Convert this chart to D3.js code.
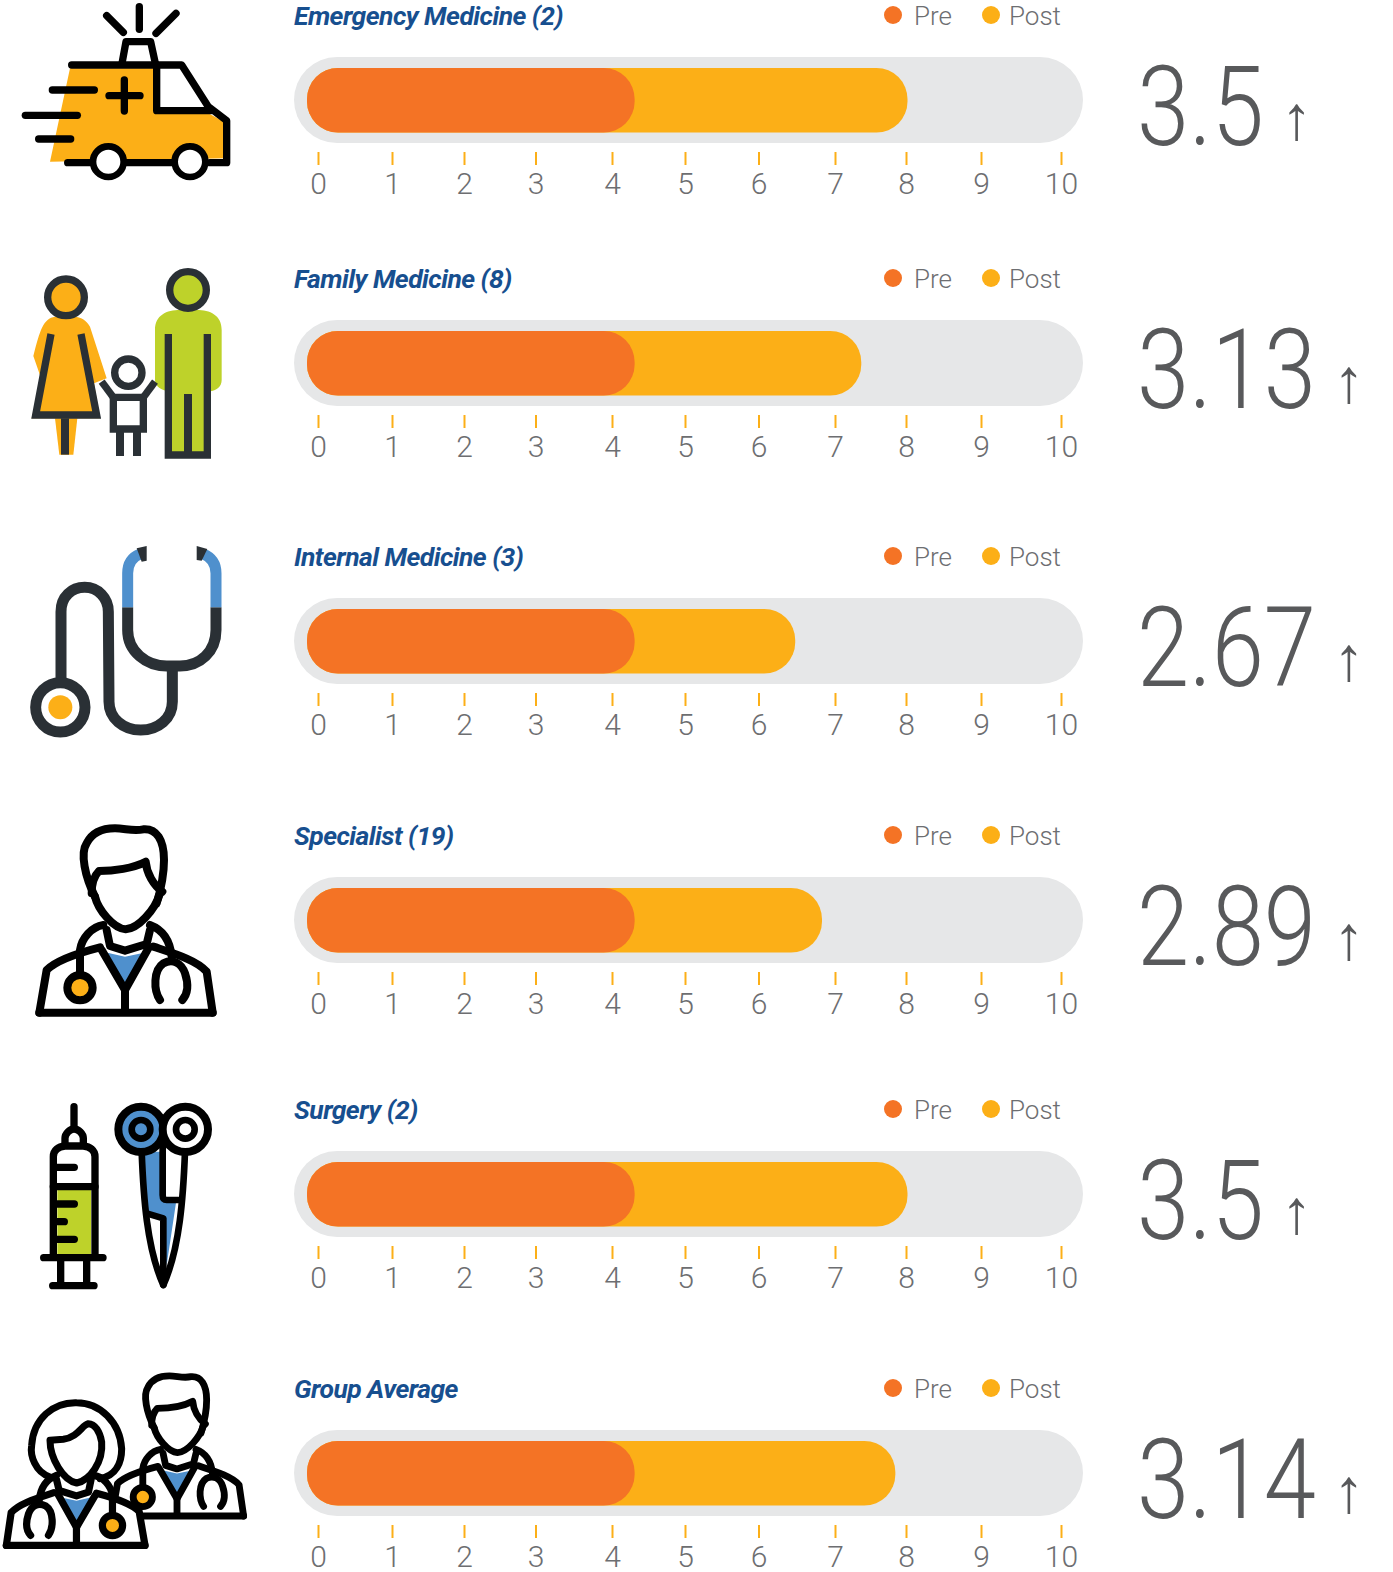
<!DOCTYPE html>
<html>
<head>
<meta charset="utf-8">
<script src="https://cdnjs.cloudflare.com/ajax/libs/d3/7.8.5/d3.min.js"></script>
<style>
html, body { margin: 0; padding: 0; background: #fff; }
svg { display: block; }
text { font-family: Roboto, sans-serif; }
</style>
</head>
<body>
<div id="chart"></div>
<script>
var rowNames = ["Emergency Medicine (2)", "Family Medicine (8)", "Internal Medicine (3)", "Specialist (19)", "Surgery (2)", "Group Average"];
var preValues = [4.31, 4.31, 4.31, 4.31, 4.31, 4.31];
var postValues = [8.02, 7.37, 6.48, 6.83, 8.02, 7.85];
var changes = ["3.5", "3.13", "2.67", "2.89", "3.5", "3.14"];
var tickLabels = [0, 1, 2, 3, 4, 5, 6, 7, 8, 9, 10];
var legendNames = ["Pre", "Post"];

// layout only
var width = 1393, height = 1572;
var rowTop = [57, 320, 598, 877, 1151, 1430];
var tickPx = [318, 392, 464, 535.5, 612, 685, 758.5, 835, 906, 981, 1061];
var preColor = "#f47325", postColor = "#fcaf17", dark = "#2a3035", blue = "#4f90cd", green = "#bed22a";

var svg = d3.select("#chart").append("svg")
    .attr("width", width)
    .attr("height", height)
    .attr("viewBox", "0 0 " + width + " " + height);

// the ticks in the picture are not evenly spaced, so the scale is piecewise
var xScale = d3.scaleLinear().domain(tickLabels).range(tickPx);

var barStart = xScale(0) - 11;
var xAxis = d3.axisBottom(xScale).tickValues(tickLabels).tickSize(13).tickPadding(8).tickFormat(d3.format("d"));

rowNames.forEach(function(name, i) {
    var row = svg.append("g").attr("transform", "translate(0," + rowTop[i] + ")");

    row.append("text")
        .attr("x", 294).attr("y", -32)
        .attr("font-size", 26.5).attr("font-weight", 700).attr("font-style", "italic")
        .attr("letter-spacing", -0.55)
        .attr("fill", "#174f8f")
        .text(name);

    // legend
    legendNames.forEach(function(l, j) {
        row.append("circle")
            .attr("cx", j == 0 ? 893 : 991).attr("cy", -42).attr("r", 9)
            .attr("fill", j == 0 ? preColor : postColor);
        row.append("text")
            .attr("x", j == 0 ? 914 : 1009).attr("y", -32)
            .attr("font-size", 26).attr("font-weight", 300)
            .attr("fill", "#6d6e71")
            .text(l);
    });

    // track + bars
    row.append("rect")
        .attr("x", 294).attr("y", 0)
        .attr("width", 789).attr("height", 86)
        .attr("rx", 43).attr("fill", "#e6e7e8");
    row.append("rect")
        .attr("x", barStart).attr("y", 11)
        .attr("width", xScale(postValues[i]) - barStart).attr("height", 64.5)
        .attr("rx", 31).attr("fill", postColor);
    row.append("rect")
        .attr("x", barStart).attr("y", 11)
        .attr("width", xScale(preValues[i]) - barStart).attr("height", 64.5)
        .attr("rx", 31).attr("fill", preColor);

    // axis
    var axis = row.append("g").attr("transform", "translate(0,95)").call(xAxis);
    axis.select(".domain").remove();
    axis.selectAll(".tick line").attr("stroke", postColor).attr("stroke-width", 2);
    axis.selectAll(".tick text")
        .attr("font-size", 30).attr("font-weight", 300)
        .attr("font-family", "Roboto, sans-serif")
        .attr("fill", "#6d6e71");

    // big number and arrow
    var sx = 0.84;
    var num = row.append("text")
        .attr("transform", "translate(1137,88) scale(" + sx + ",1)")
        .attr("font-size", 112).attr("font-weight", 300)
        .attr("fill", "#58595b")
        .text(changes[i]);
    var len = num.node().getComputedTextLength() * sx;
    row.append("text")
        .attr("x", 1137 + len + 33).attr("y", 82)
        .attr("text-anchor", "middle")
        .attr("font-family", "'Liberation Sans', sans-serif")
        .attr("font-size", 62)
        .attr("fill", "#58595b")
        .text("\u2191");
});

// icons are traced at 3x, origin = top left of each crop
function icon(x, y) {
    return svg.append("g").attr("transform", "translate(" + x + "," + y + ") scale(" + (1 / 3) + ")");
}
function stroke(g, d, w, col, cap) {
    return g.append("path").attr("d", d).attr("fill", "none")
        .attr("stroke", col).attr("stroke-width", w)
        .attr("stroke-linecap", cap || "round").attr("stroke-linejoin", cap ? "miter" : "round");
}
function shape(g, d, col) {
    return g.append("path").attr("d", d).attr("fill", col);
}
function ring(g, cx, cy, r, w, col, fill) {
    return g.append("circle").attr("cx", cx).attr("cy", cy).attr("r", r)
        .attr("fill", fill).attr("stroke", col).attr("stroke-width", w);
}

// ambulance
var amb = icon(0, 0);
shape(amb, "M210,205L460,205L460,335L625,340L680,370L680,475L150,485Z", postColor);
shape(amb, "M470,205L545,205L620,325L470,325Z", "#fff");
["M320,47L370,97", "M418,20L418,88", "M528,40L468,100",
 "M366,190L378,125L452,125L466,190",
 "M215,195L545,195L625,320L680,362L680,488L630,488",
 "M470,195L470,332L630,332",
 "M373,240L373,333", "M327,287L420,287",
 "M157,270L283,270", "M76,346L232,346", "M116,417L212,417",
 "M203,488L280,488", "M370,488L525,488"].forEach(function(d) { stroke(amb, d, 22, "#000"); });
ring(amb, 325, 485, 46, 20, "#000", "#fff");
ring(amb, 570, 485, 46, 20, "#000", "#fff");

// family
var fam = icon(0, 250);
shape(fam, "M165,200C130,205 120,240 100,318L125,390L95,505L300,505L282,400L320,385L270,230C260,210 240,200 225,200Z", postColor);
shape(fam, "M165,505L178,614L220,614L232,505Z", postColor);
ring(fam, 198, 142, 55, 22, dark, postColor);
stroke(fam, "M153,252L107,495L290,495L243,252", 22, dark, "butt");
stroke(fam, "M195,505L195,614", 24, dark, "butt");
shape(fam, "M465,240C465,195 500,180 540,180L590,180C630,180 665,195 665,240L665,390C665,410 650,420 632,424L632,615L505,615L505,424C485,420 465,410 465,390Z", green);
ring(fam, 564, 120, 55, 22, dark, green);
stroke(fam, "M505,252L505,615L622,615L622,252", 22, dark, "butt");
stroke(fam, "M564,432L564,610", 24, dark, "butt");
ring(fam, 385, 368, 41, 22, dark, "#fff");
stroke(fam, "M340,442L430,442L430,537L340,537Z", 22, dark, "butt");
stroke(fam, "M305,395L340,442", 22, dark, "butt");
stroke(fam, "M465,395L430,442", 22, dark, "butt");
stroke(fam, "M360,545L360,618", 24, dark, "butt");
stroke(fam, "M411,545L411,618", 24, dark, "butt");

// stethoscope
var ste = icon(0, 530);
stroke(ste, "M183,445L183,245C183,200 215,172 254,172C295,172 325,205 325,245L327,515C327,565 370,600 422,600C475,600 517,565 517,515L517,420", 33, dark, "butt");
stroke(ste, "M383,232L383,300C383,365 440,408 500,408L540,408C600,408 648,365 648,300L648,232", 33, dark, "butt");
stroke(ste, "M383,232L383,130C383,100 395,82 420,72", 33, blue, "butt");
stroke(ste, "M648,232L648,130C648,100 635,82 610,72", 33, blue, "butt");
shape(ste, "M410,55L440,48L440,92L425,95Z", dark);
shape(ste, "M590,48L622,57L605,92L590,90Z", dark);
ring(ste, 181, 532, 74, 33, dark, "#fff");
ste.append("circle").attr("cx", 181).attr("cy", 532).attr("r", 36).attr("fill", postColor);

// doctor, drawn facing the same way as the single specialist icon
function doctorBody(g, w) {
    shape(g, "M118,608L140,480C170,450 230,430 300,412L375,425L460,410C520,430 590,450 620,485L638,608Z", "#fff");
    shape(g, "M322,428L375,440L432,428L375,525Z", blue);
    ["M240,500L240,420C245,385 275,350 310,345", "M450,345C490,360 510,390 515,440",
     "M118,608L140,480C170,450 230,430 300,412", "M460,410C520,430 590,450 620,485L638,608",
     "M118,608L638,608", "M305,420L375,540L445,415", "M375,540L375,600",
     "M320,360L330,408L375,422L440,402L450,360",
     "M480,570C460,540 460,480 490,460C520,445 545,460 555,490C565,520 565,550 547,570"
    ].forEach(function(d) { stroke(g, d, w, "#000"); });
    ring(g, 240, 533, 38, w, "#000", postColor);
}
function doctorHead(g, w) {
    ["M285,260C255,200 240,130 260,100C280,60 320,55 345,55C375,55 400,65 430,58C470,55 492,90 492,150C492,190 485,230 470,280",
     "M285,260C295,300 340,355 377,358C415,355 465,300 480,250",
     "M275,250C275,220 285,195 297,183C340,183 400,175 437,155C440,190 460,225 487,245"
    ].forEach(function(d) { stroke(g, d, w, "#000"); });
}
var spec = icon(0, 810);
doctorBody(spec, 24);
doctorHead(spec, 24);

// syringe and scissors
var sur = icon(0, 1085);
shape(sur, "M172,315L273,315L273,507L172,507Z", green);
["M222,65L222,125", "M195,175L195,160C195,145 210,132 222,132C235,132 250,145 250,160L250,175",
 "M160,510L160,215C160,195 175,185 195,183L250,183C270,185 285,195 285,215L285,510",
 "M160,305L285,305", "M165,247L223,247", "M165,357L223,357", "M165,410L193,410", "M165,463L223,463",
 "M131,518L309,518", "M182,520L182,600", "M260,520L260,600", "M158,602L282,602"
].forEach(function(d) { stroke(sur, d, 22, "#000"); });
shape(sur, "M430,200L480,200L488,340L530,340L500,540L480,395L440,375Z", blue);
ring(sur, 423, 133, 68, 24, "#000", blue);
ring(sur, 423, 133, 28, 20, "#000", blue);
ring(sur, 556, 133, 68, 24, "#000", "#fff");
ring(sur, 556, 133, 28, 20, "#000", "#fff");
["M425,200C430,330 440,490 490,600", "M555,200C550,330 540,490 490,600",
 "M488,140L488,330Q488,345 500,345L535,345", "M440,385L490,400L490,590"
].forEach(function(d) { stroke(sur, d, 20, "#000"); });

// group average: male behind, female in front
var grp = icon(0, 1352);
var male = grp.append("g").attr("transform", "translate(246,30) scale(0.76)");
doctorBody(male, 27);
doctorHead(male, 27);
var body = grp.append("g").attr("transform", "translate(529.4,94) scale(-0.8,0.8)");
doctorBody(body, 27);
["M150,375C105,360 90,310 95,280C100,200 160,150 230,152C300,152 360,210 365,290C365,330 350,370 300,380",
 "M150,265C150,320 190,385 230,393C270,385 310,330 305,270C300,240 285,215 265,215C245,220 235,255 190,262L150,265"
].forEach(function(d) { stroke(grp, d, 21, "#000"); });
</script>
</body>
</html>
